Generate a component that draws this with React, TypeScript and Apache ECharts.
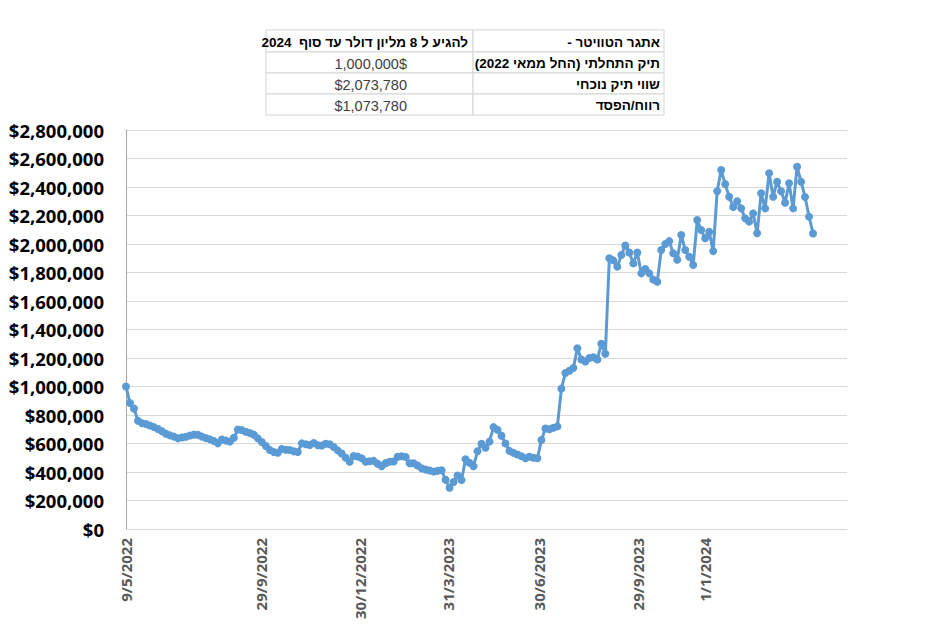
import React, { useEffect, useRef } from "react";
import * as echarts from "echarts";

// Portfolio value (thousands of $), evenly spaced samples along the chart
const portfolioK = [
  1000, 884, 845, 760, 742, 737, 726, 715, 702, 686,
  668, 657, 648, 636, 642, 647, 656, 662, 661, 648,
  638, 629, 617, 601, 628, 620, 613, 640, 698, 694,
  682, 674, 662, 636, 610, 582, 554, 540, 535, 561,
  556, 554, 545, 540, 601, 595, 589, 604, 588, 585,
  598, 595, 575, 552, 530, 500, 472, 512, 508, 496,
  472, 475, 478, 458, 440, 462, 472, 474, 507, 510,
  505, 461, 461, 445, 426, 418, 411, 404, 408, 412,
  345, 290, 330, 375, 344, 490, 465, 440, 545, 598,
  570, 613, 715, 697, 655, 600, 548, 534, 523, 510,
  497, 507, 500, 496, 625, 705, 700, 710, 720, 985,
  1095, 1110, 1130, 1268, 1190, 1176, 1200, 1205, 1190, 1300,
  1230, 1900, 1885, 1841, 1923, 1990, 1940, 1864, 1940, 1794,
  1825, 1794, 1750, 1735, 1958, 2000, 2020, 1935, 1890, 2063,
  1958, 1911, 1853, 2168, 2098, 2040, 2086, 1950, 2370, 2519,
  2420, 2332, 2260, 2300, 2250, 2180, 2157, 2215, 2075, 2356,
  2250, 2496, 2332, 2437, 2370, 2290, 2426, 2250, 2542, 2437,
  2330, 2192, 2074,
];

// Sample index at which each date label sits
const tickIndex = [0, 33.9, 58.7, 80.6, 103.5, 128.3, 145];
const tickLabels = [
  "9/5/2022",
  "29/9/2022",
  "30/12/2022",
  "31/3/2023",
  "30/6/2023",
  "29/9/2023",
  "1/1/2024",
];

const tableLabels = [
  "אתגר הטוויטר -",
  "תיק התחלתי (החל ממאי 2022)",
  "שווי תיק נוכחי",
  "רווח/הפסד",
];
const tableValues = [
  "להגיע ל 8 מליון דולר עד סוף  2024",
  "1,000,000$",
  "$2,073,780",
  "$1,073,780",
];

const rtl = (s: string) => "\u202B" + s + "\u202C";

export default function App() {
  const ref = useRef<HTMLDivElement>(null);

  useEffect(() => {
    if (!ref.current) return;
    const chart = echarts.init(ref.current, undefined, { renderer: "svg" });

    const rowTops = [30, 52, 73, 94];
    const rowH = [22, 21, 21, 21];
    const leftX = 266;
    const midX = 473;
    const rightX = 664;
    const graphic: any[] = [];
    rowTops.forEach((top, r) => {
      graphic.push({
        type: "rect",
        shape: { x: leftX, y: top, width: midX - leftX, height: rowH[r] },
        style: { fill: "#fff", stroke: "#d4d4d4", lineWidth: 1 },
      });
      graphic.push({
        type: "rect",
        shape: { x: midX, y: top, width: rightX - midX, height: rowH[r] },
        style: { fill: "#fff", stroke: "#d4d4d4", lineWidth: 1 },
      });
      graphic.push({
        type: "text",
        x: 660,
        y: top + rowH[r] / 2 + 1,
        style: {
          text: rtl(tableLabels[r]),
          fontFamily: "Liberation Sans, DejaVu Sans, sans-serif",
          fontWeight: "bold",
          fontSize: 13.5,
          fill: "#000",
          align: "right",
          verticalAlign: "middle",
        },
      });
      graphic.push({
        type: "text",
        x: r === 0 ? 468 : 407,
        y: top + rowH[r] / 2 + 1,
        style: {
          text: r === 0 ? rtl(tableValues[r]) : tableValues[r],
          fontFamily: "Liberation Sans, DejaVu Sans, sans-serif",
          fontWeight: r === 0 ? "bold" : "normal",
          fontSize: r === 0 ? 13.5 : 14.5,
          fill: r === 0 ? "#000" : "#404040",
          align: "right",
          verticalAlign: "middle",
        },
      });
    });

    const option: any = {
      animation: false,
      grid: { left: 126, right: 103, top: 130, bottom: 100, containLabel: false },
      xAxis: {
        type: "value",
        min: 0,
        max: 180.5,
        axisLine: { show: true, lineStyle: { color: "#d9d9d9", width: 1 } },
        axisTick: { show: false },
        splitLine: { show: false },
        axisLabel: {
          customValues: tickIndex,
          rotate: 90,
          margin: 9,
          color: "#595959",
          fontFamily: "Open Sans",
          fontWeight: "bold",
          fontSize: 15,
          formatter: (v: number) => {
            const k = tickIndex.findIndex((t) => Math.abs(t - v) < 0.01);
            return k >= 0 ? tickLabels[k] : "";
          },
        },
      },
      yAxis: {
        type: "value",
        min: 0,
        max: 2800000,
        interval: 200000,
        axisLine: { show: true, lineStyle: { color: "#a6a6a6", width: 1 } },
        axisTick: { show: false },
        splitLine: { show: true, lineStyle: { color: "#d9d9d9", width: 1 } },
        axisLabel: {
          margin: 22,
          color: "#000",
          fontFamily: "Open Sans",
          fontWeight: "bold",
          fontSize: 18.5,
          formatter: (v: number) => "$" + v.toLocaleString("en-US"),
        },
      },
      series: [
        {
          type: "line",
          data: portfolioK.map((v, i) => [i, v * 1000]),
          symbol: "circle",
          symbolSize: 8,
          lineStyle: { color: "#5B9BD5", width: 3 },
          itemStyle: { color: "#5B9BD5" },
        },
      ],
      graphic,
    };
    chart.setOption(option);
    return () => chart.dispose();
  }, []);

  return (
    <div
      ref={ref}
      style={{ position: "fixed", left: 0, top: 0, width: 950, height: 629, background: "#fff" }}
    />
  );
}
